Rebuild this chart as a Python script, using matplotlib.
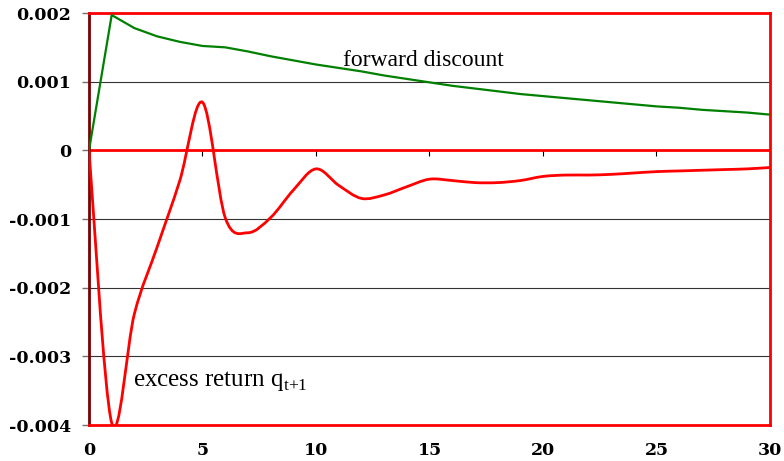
import matplotlib
matplotlib.use("Agg")
import matplotlib.pyplot as plt
import numpy as np
from matplotlib.path import Path
from matplotlib.patches import PathPatch

# ---------------------------------------------------------------------------
# Data
# ---------------------------------------------------------------------------

horizon = list(range(0, 31))

forward_discount = [
    0.0, 0.00197, 0.00178, 0.00166, 0.00158, 0.00152, 0.00150, 0.00144,
    0.00137, 0.00131, 0.00125, 0.00120, 0.00115, 0.00109, 0.00104, 0.00099,
    0.00094, 0.00090, 0.00086, 0.00082, 0.00079, 0.00076, 0.00073, 0.00070,
    0.00067, 0.00064, 0.00062, 0.00059, 0.00057, 0.00055, 0.00052,
]

excess_return = [
    0.0, -0.00397, -0.00238, -0.00141, -0.00044, 0.00070, -0.00098, -0.00120,
    -0.00098, -0.00058, -0.00027, -0.00051, -0.00070, -0.00065, -0.00053,
    -0.00042, -0.00044, -0.00047, -0.00047, -0.00044, -0.00038, -0.00036,
    -0.00036, -0.00035, -0.00033, -0.00031, -0.00030, -0.00029, -0.00028,
    -0.00027, -0.00025,
]

y_ticks = [-0.004, -0.003, -0.002, -0.001, 0, 0.001, 0.002]
y_tick_labels = ["-0.004", "-0.003", "-0.002", "-0.001", "0", "0.001", "0.002"]
x_ticks = [0, 5, 10, 15, 20, 25, 30]


def smooth_path(xs, ys):
    """Excel-style smoothed line: Catmull-Rom segments as cubic Beziers."""
    pts = np.column_stack([xs, ys]).astype(float)
    ext = np.vstack([pts[0], pts, pts[-1]])
    verts = [pts[0]]
    codes = [Path.MOVETO]
    for i in range(len(pts) - 1):
        p0, p1, p2, p3 = ext[i], ext[i + 1], ext[i + 2], ext[i + 3]
        verts += [p1 + (p2 - p0) / 6, p2 - (p3 - p1) / 6, p2]
        codes += [Path.CURVE4] * 3
    return Path(verts, codes)


# ---------------------------------------------------------------------------
# Plot
# ---------------------------------------------------------------------------

plt.rcParams["font.family"] = ["Liberation Serif", "DejaVu Serif"]
plt.rcParams["mathtext.fontset"] = "custom"
plt.rcParams["mathtext.rm"] = "Liberation Serif"

fig = plt.figure(figsize=(7.84, 4.61), dpi=100)
ax = fig.add_axes([89 / 784, 1 - 425 / 461, (770 - 89) / 784, (425 - 13) / 461])

ax.set_xlim(0, 30)
ax.set_ylim(-0.004, 0.002)

# grid lines
for y in y_ticks:
    if y == 0:
        continue
    ax.axhline(y, color="#333333", lw=0.8, zorder=1)
ax.axhline(0, color="red", lw=2, zorder=2)

ax.plot(horizon, forward_discount, color="#008000", lw=1.6, zorder=3)
ax.add_patch(PathPatch(smooth_path(horizon, excess_return), fill=False,
                       edgecolor="red", lw=2.0, zorder=4))

for side in ["top", "right", "bottom"]:
    ax.spines[side].set_color("red")
    ax.spines[side].set_linewidth(2)
ax.spines["left"].set_color("#7a0000")
ax.spines["left"].set_linewidth(2)

tick_font = dict(family="DejaVu Serif", fontweight="bold", fontsize=12.5)

ax.set_yticks(y_ticks)
ax.set_yticklabels(y_tick_labels, **tick_font)
ax.tick_params(axis="y", length=5, width=1, color="#707070", pad=8)

ax.set_xticks(x_ticks)
ax.set_xticklabels([str(t) for t in x_ticks], **tick_font)
ax.tick_params(axis="x", length=0, pad=12)

# small tick marks sitting on the zero line
sec = ax.secondary_xaxis(2 / 3)
sec.xaxis.set_ticks_position("bottom")
sec.set_xticks(x_ticks)
sec.set_xticklabels([])
sec.tick_params(axis="x", direction="out", length=4, color="black")
for s in sec.spines.values():
    s.set_visible(False)

ax.text(14.75, 0.00131, "forward discount", fontsize=17, ha="center", va="center")
ax.text(1.95, -0.00336, r"excess return q$_{\mathrm{t{+}1}}$", fontsize=18,
        ha="left", va="center")

fig.savefig("out.png", dpi=100)
plt.close(fig)
